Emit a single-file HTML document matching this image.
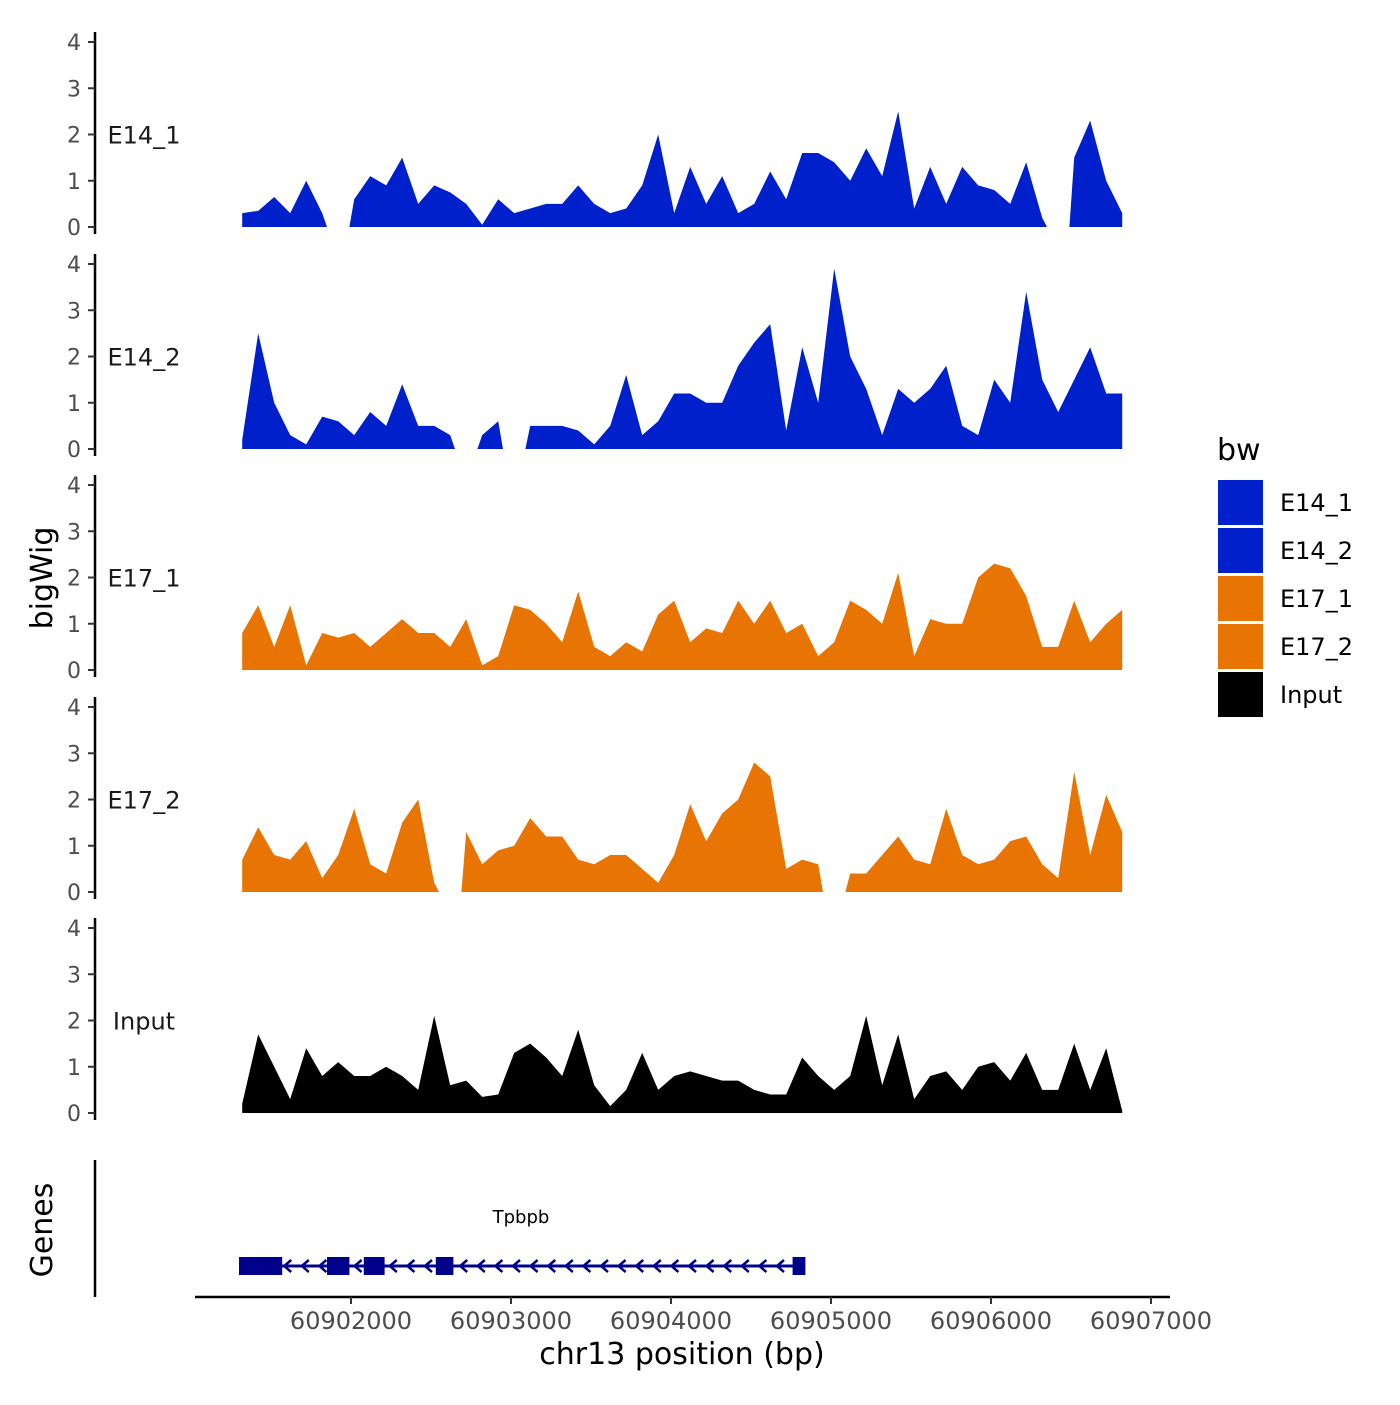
<!DOCTYPE html>
<html><head><meta charset="utf-8"><style>
html,body{margin:0;padding:0;background:#fff}
svg text{font-family:"DejaVu Sans","Liberation Sans",sans-serif}
</style></head><body>
<svg id="chart" width="1400" height="1400" viewBox="0 0 1400 1400" xmlns="http://www.w3.org/2000/svg"></svg>
<script>
const positions = [];
for (let i = 0; i < 56; i++) positions.push(60901320 + i * 100);
const trackNames = ["E14_1","E14_2","E17_1","E17_2","Input"];
const trackColors = ["#0020cc","#0020cc","#e87503","#e87503","#000000"];
const e14_1 = [0.3,0.35,0.65,0.3,1.0,0.3,null,0.6,1.1,0.9,1.5,0.5,0.9,0.75,0.5,0.05,0.6,0.3,0.4,0.5,0.5,0.9,0.5,0.3,0.4,0.9,2.0,0.3,1.3,0.5,1.1,0.3,0.5,1.2,0.6,1.6,1.6,1.4,1.0,1.7,1.1,2.5,0.4,1.3,0.5,1.3,0.9,0.8,0.5,1.4,0.2,null,1.5,2.3,1.0,0.3];
const e14_2 = [0.2,2.5,1.0,0.3,0.1,0.7,0.6,0.3,0.8,0.5,1.4,0.5,0.5,0.3,null,0.3,0.6,null,0.5,0.5,0.5,0.4,0.1,0.5,1.6,0.3,0.6,1.2,1.2,1.0,1.0,1.8,2.3,2.7,0.4,2.2,1.0,3.9,2.0,1.3,0.3,1.3,1.0,1.3,1.8,0.5,0.3,1.5,1.0,3.4,1.5,0.8,1.5,2.2,1.2,1.2];
const e17_1 = [0.8,1.4,0.5,1.4,0.1,0.8,0.7,0.8,0.5,0.8,1.1,0.8,0.8,0.5,1.1,0.1,0.3,1.4,1.3,1.0,0.6,1.7,0.5,0.3,0.6,0.4,1.2,1.5,0.6,0.9,0.8,1.5,1.0,1.5,0.8,1.0,0.3,0.6,1.5,1.3,1.0,2.1,0.3,1.1,1.0,1.0,2.0,2.3,2.2,1.6,0.5,0.5,1.5,0.6,1.0,1.3];
const e17_2 = [0.7,1.4,0.8,0.7,1.1,0.3,0.8,1.8,0.6,0.4,1.5,2.0,0.2,null,1.3,0.6,0.9,1.0,1.6,1.2,1.2,0.7,0.6,0.8,0.8,0.5,0.2,0.8,1.9,1.1,1.7,2.0,2.8,2.5,0.5,0.7,0.6,null,0.4,0.4,0.8,1.2,0.7,0.6,1.8,0.8,0.6,0.7,1.1,1.2,0.6,0.3,2.6,0.8,2.1,1.3];
const input = [0.2,1.7,1.0,0.3,1.4,0.8,1.1,0.8,0.8,1.0,0.8,0.5,2.1,0.6,0.7,0.35,0.4,1.3,1.5,1.2,0.8,1.8,0.6,0.15,0.5,1.3,0.5,0.8,0.9,0.8,0.7,0.7,0.5,0.4,0.4,1.2,0.8,0.5,0.8,2.1,0.6,1.7,0.3,0.8,0.9,0.5,1.0,1.1,0.7,1.3,0.5,0.5,1.5,0.5,1.4,0.05];
const yTicks = [0,1,2,3,4];
const xTicks = [60902000,60903000,60904000,60905000,60906000,60907000];
const exonStarts = [60901300,60901850,60902080,60902530,60904760];
const exonEnds = [60901570,60901990,60902210,60902640,60904840];
const geneStart = 60901320, geneEnd = 60904820;

const NS = "http://www.w3.org/2000/svg";
const svg = document.getElementById("chart");
const xs = v => 351 + (v - 60902000) * 0.16;
const zeros = [227,449,670,892,1113];
const yUnit = 46.25;
const ext = 30;
function mk(tag, attrs, parent) {
  const e = document.createElementNS(NS, tag);
  for (const k in attrs) e.setAttribute(k, attrs[k]);
  (parent || svg).appendChild(e);
  return e;
}
const allSeries = [e14_1, e14_2, e17_1, e17_2, input];
allSeries.forEach((vals, t) => {
  const z = zeros[t];
  const g = mk("g", {});
  
  
  let seg = [];
  let afterGap = false;
  const flush = (beforeGap) => {
    if (seg.length > 1) {
      const first = seg[0][0] - (afterGap ? ext : 0);
      const last = seg[seg.length - 1][0] + (beforeGap ? ext : 0);
      let d = "M" + xs(first) + "," + z;
      seg.forEach(p => d += " L" + xs(p[0]) + "," + (z - p[1] * yUnit));
      d += " L" + xs(last) + "," + z + " Z";
      const p = mk("path", {d: d, fill: trackColors[t]}, g);
      
      
    }
    seg = [];
  };
  vals.forEach((v, i) => {
    if (v === null) { flush(true); afterGap = true; }
    else seg.push([positions[i], v]);
  });
  flush(false);
  const ax = mk("line", {x1: 95, x2: 95, y1: z - 4 * yUnit - 10, y2: z + 7, stroke: "#000", "stroke-width": 2.5}, g);
  
  
  yTicks.forEach(tv => {
    const y = z - tv * yUnit;
    mk("line", {x1: 88, x2: 95, y1: y, y2: y, stroke: "#333", "stroke-width": 2}, g);
    const tx = mk("text", {x: 81, y: y + 8, "text-anchor": "end", "font-size": 22, fill: "#4d4d4d"}, g);
    
    
    tx.textContent = tv;
  });
  const lab = mk("text", {x: 144, y: z - 2 * yUnit + 9, "text-anchor": "middle", "font-size": 24, fill: "#1a1a1a"}, g);
  
  
  lab.textContent = trackNames[t];
});
let yt = mk("text", {x: 0, y: 0, transform: "translate(52,578) rotate(-90)", "text-anchor": "middle", "font-size": 30, fill: "#000"});


yt.textContent = "bigWig";
let gt = mk("text", {x: 0, y: 0, transform: "translate(52,1230) rotate(-90)", "text-anchor": "middle", "font-size": 30, fill: "#000"});


gt.textContent = "Genes";
let gl = mk("line", {x1: 95, x2: 95, y1: 1160, y2: 1297, stroke: "#000", "stroke-width": 2.5});


const gg = mk("g", {});


mk("line", {x1: xs(geneStart) - 2, x2: xs(geneEnd), y1: 1266, y2: 1266, stroke: "#00008b", "stroke-width": 3}, gg);
for (let x = xs(geneStart) + 45; x < xs(geneEnd); x += 17.6) {
  mk("path", {d: `M${x+4},${1260} L${x-3},${1266} L${x+4},${1272}`, fill: "none", stroke: "#00008b", "stroke-width": 2.5}, gg);
}
exonStarts.forEach((s, i) => {
  const r = mk("rect", {x: xs(s), y: 1257, width: xs(exonEnds[i]) - xs(s), height: 18, fill: "#00008b"}, gg);
  
  
});
let gn = mk("text", {x: 521, y: 1223, "text-anchor": "middle", "font-size": 18, fill: "#000"}, gg);


gn.textContent = "Tpbpb";
let xa = mk("line", {x1: 195, x2: 1170, y1: 1297, y2: 1297, stroke: "#000", "stroke-width": 2.5});


xTicks.forEach(v => {
  mk("line", {x1: xs(v), x2: xs(v), y1: 1297, y2: 1304, stroke: "#333", "stroke-width": 2});
  const t = mk("text", {x: xs(v), y: 1329, "text-anchor": "middle", "font-size": 24, fill: "#4d4d4d"});
  
  
  t.textContent = v;
});
let xt = mk("text", {x: 682, y: 1364, "text-anchor": "middle", "font-size": 30, fill: "#000"});


xt.textContent = "chr13 position (bp)";
const lg = mk("g", {});


let lt = mk("text", {x: 1217, y: 460, "font-size": 30, fill: "#000"}, lg);


lt.textContent = "bw";
trackNames.forEach((n, i) => {
  const y = 480 + i * 48;
  const r = mk("rect", {x: 1218, y: y, width: 45, height: 45, fill: trackColors[i]}, lg);
  
  
  const t = mk("text", {x: 1280, y: y + 31, "font-size": 24, fill: "#000"}, lg);
  
  
  t.textContent = n;
});
</script>
</body></html>
